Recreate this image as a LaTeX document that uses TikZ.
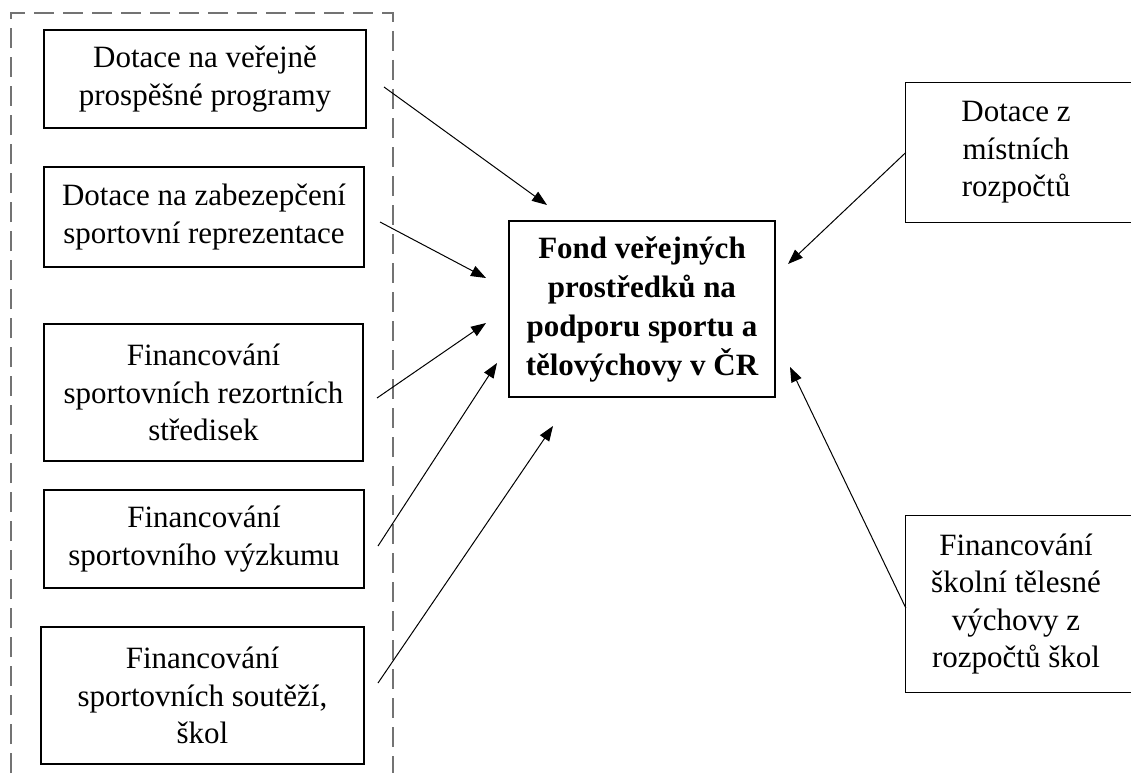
\documentclass[tikz,border=0pt]{standalone}
\usepackage{fontspec}
\setmainfont{Liberation Serif}
\usetikzlibrary{arrows.meta}
\begin{document}
\begin{tikzpicture}[x=1pt,y=-1pt,
  box/.style={draw=black,line width=1.2pt,align=center,inner sep=0pt,
    font=\fontsize{31}{37.5}\selectfont},
  fondbox/.style={box,font=\fontsize{31}{39}\selectfont\bfseries},
  openbox/.style={align=center,inner sep=0pt,
    font=\fontsize{31}{37.5}\selectfont},
  flow/.style={line width=1pt,-{Triangle[length=15pt,width=11pt]}},
  group/.style={draw=black!55,line width=1.5pt,dash pattern=on 20pt off 9pt}]
\useasboundingbox (0,0) rectangle (1131,773);
\fill[white] (0,0) rectangle (1131,773);

% dashed frame around the state-budget sources
\draw[group] (11,773) -- (11,13) -- (393,13) -- (393,773);

% left-hand sources
\node[box,minimum width=322pt,minimum height=98pt] (b1) at (205,79)
  {Dotace na veřejně\\prospěšné programy};
\node[box,minimum width=320pt,minimum height=100pt] (b2) at (204,217)
  {Dotace na zabezepčení\\sportovní reprezentace};
\node[box,minimum width=319pt,minimum height=137pt] (b3) at (203.5,392.5)
  {Financování\\sportovních rezortních\\středisek};
\node[box,minimum width=320pt,minimum height=98pt] (b4) at (204,539)
  {Financování\\sportovního výzkumu};
\node[box,minimum width=323pt,minimum height=137pt] (b5) at (202.5,695.5)
  {Financování\\sportovních soutěží,\\škol};

% the fund
\node[fondbox,minimum width=266pt,minimum height=176pt] (fond) at (642,309)
  {Fond veřejných\\prostředků na\\podporu sportu a\\tělovýchovy v ČR};

% right-hand sources (boxes run off the right edge)
\node[openbox,minimum width=220pt,minimum height=139pt] (r1) at (1016,152.5)
  {Dotace z\\místních\\rozpočtů};
\node[openbox,minimum width=220pt,minimum height=176pt] (r2) at (1016,604)
  {Financování\\školní tělesné\\výchovy z\\rozpočtů škol};
\foreach \n in {r1,r2}
  \draw[line width=1.2pt] ([xshift=240pt]\n.north west) -- (\n.north west)
    -- (\n.south west) -- ([xshift=240pt]\n.south west);

% arrow ends
\coordinate (s1) at (384,87);   \coordinate (e1) at (547,205);
\coordinate (s2) at (380,222);  \coordinate (e2) at (486,278);
\coordinate (s3) at (377,398);  \coordinate (e3) at (486,323);
\coordinate (s4) at (378,546);  \coordinate (e4) at (497,363);
\coordinate (s5) at (378,683);  \coordinate (e5) at (553,426);
\coordinate (e6) at (788,264);
\coordinate (e7) at (790,367);

\draw[flow] (s1) -- (e1);
\draw[flow] (s2) -- (e2);
\draw[flow] (s3) -- (e3);
\draw[flow] (s4) -- (e4);
\draw[flow] (s5) -- (e5);
\draw[flow] (r1.west) -- (e6);
\draw[flow] ([yshift=-4pt]r2.west) -- (e7);
\end{tikzpicture}
\end{document}
